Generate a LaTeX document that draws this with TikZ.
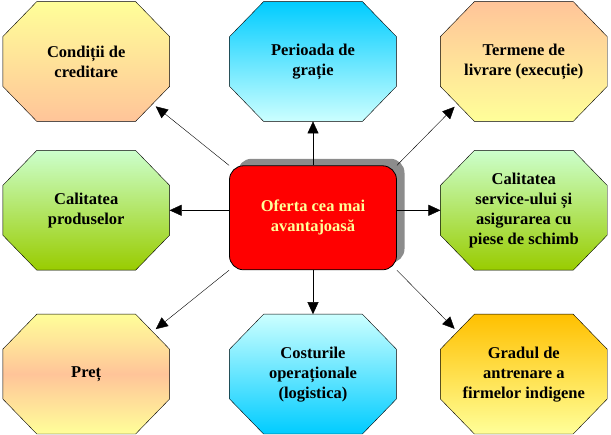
\documentclass[tikz,border=0pt]{standalone}
\usepackage{fontspec}
\setmainfont{Liberation Serif}
\usetikzlibrary{arrows.meta,positioning,calc,shadows}
\pgfdeclarelayer{background}
\pgfsetlayers{background,main}
\definecolor{lemon}{HTML}{FFFF99}
\definecolor{peach}{HTML}{FFC499}
\definecolor{skyblue}{HTML}{00CCFF}
\definecolor{icecyan}{HTML}{CCFFFF}
\definecolor{mint}{HTML}{CCFFCC}
\definecolor{leaf}{HTML}{99CC00}
\definecolor{gold}{HTML}{FFC000}
% octagon behind a node: #1 node, #2 shading
\newcommand\octa[2]{%
	\begin{pgfonlayer}{background}
	\path[draw,#2] ($(#1.north west)+(34,0)$) -- ($(#1.north east)+(-34,0)$)
		-- ($(#1.north east)+(0,35)$) -- ($(#1.south east)+(0,-35)$)
		-- ($(#1.south east)+(-34,0)$) -- ($(#1.south west)+(34,0)$)
		-- ($(#1.south west)+(0,-35)$) -- ($(#1.north west)+(0,35)$) -- cycle;
	\end{pgfonlayer}}
\begin{document}
\begin{tikzpicture}[x=1pt,y=-1pt,>={Triangle[length=12pt,width=11pt]},line width=0.8pt,
	oct/.style={rectangle,minimum width=166pt,minimum height=119pt,inner sep=0pt,align=center,
		font=\bfseries\fontsize{16.5}{20}\selectfont},
	ofbox/.style={rectangle,rounded corners=14pt,draw,fill=red,text=lemon,
		minimum width=167pt,minimum height=104pt,align=center,
		font=\bfseries\fontsize{16.5}{20}\selectfont,
		drop shadow={shadow xshift=8pt,shadow yshift=7pt,fill=black!45,opacity=1}},
	diag/.style={shorten >=4pt}]
	\useasboundingbox (0,0) rectangle (611,435);
	\node[oct] (per) at (313,61.5) {Perioada de\\grație};
	\node[oct] [left=60pt of per] (cond) {Condiții de\\creditare};
	\node[oct] [right=44pt of per] (term) {Termene de\\livrare (execuție)};
	\node[ofbox] [below=44pt of per] (ofr) {Oferta cea mai\\avantajoasă};
	\node[oct] [below=29pt of cond] (prod) {Calitatea\\produselor};
	\node[oct] [below=29pt of term] (serv) {Calitatea\\service-ului și\\asigurarea cu\\piese de schimb};
	\node[oct] [below=44pt of prod] (pret) {Preț};
	\node[oct] [below=44pt of ofr] (cost) {Costurile\\operaționale\\(logistica)};
	\node[oct] [below=44pt of serv] (grad) {Gradul de\\antrenare a\\firmelor indigene};
	\octa{per}{top color=skyblue,bottom color=icecyan}
	\octa{cond}{top color=lemon,bottom color=peach}
	\octa{term}{top color=peach,bottom color=lemon}
	\octa{prod}{top color=mint,bottom color=leaf}
	\octa{serv}{top color=mint,bottom color=leaf}
	\octa{pret}{top color=lemon,bottom color=lemon,middle color=peach}
	\octa{cost}{top color=icecyan,bottom color=skyblue}
	\octa{grad}{top color=gold,bottom color=lemon}
	\path[->]
		(ofr) edge (per)
		(ofr) edge (cost)
		(ofr.west |- prod) edge (prod)
		(ofr.east |- serv) edge (serv)
		(ofr.north west) edge[diag] ($(cond.south east)+(-17,-17.5)$)
		(ofr.north east) edge[diag] ($(term.south west)+(17,-17.5)$)
		(ofr.south west) edge[diag] ($(pret.north east)+(-17,17.5)$)
		(ofr.south east) edge[diag] ($(grad.north west)+(17,17.5)$);
\end{tikzpicture}
\end{document}
